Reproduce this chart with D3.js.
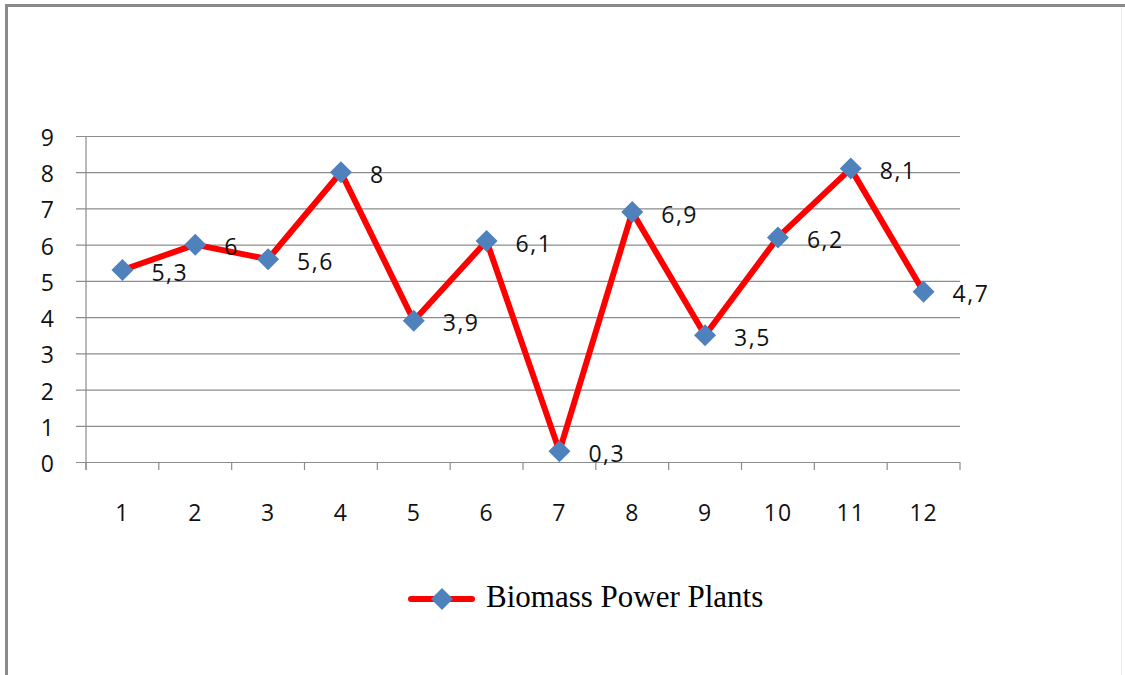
<!DOCTYPE html>
<html>
<head>
<meta charset="utf-8">
<script src="https://cdn.jsdelivr.net/npm/d3@7/dist/d3.min.js"></script>
<style>
  html, body { margin: 0; padding: 0; background: #fff; }
  svg { display: block; }
</style>
</head>
<body>
<svg id="chart" width="1125" height="675"></svg>
<script>
const categories = ["1","2","3","4","5","6","7","8","9","10","11","12"];
const values = [5.3, 6, 5.6, 8, 3.9, 6.1, 0.3, 6.9, 3.5, 6.2, 8.1, 4.7];
const valueLabels = ["5,3","6","5,6","8","3,9","6,1","0,3","6,9","3,5","6,2","8,1","4,7"];
const yTicks = [0,1,2,3,4,5,6,7,8,9];
const seriesName = "Biomass Power Plants";

const svg = d3.select("#chart");
const gridColor = "#8c8c8c";
const lineColor = "#ff0000";
const markerColor = "#4f81bd";
const labelFont = "'Open Sans', 'DejaVu Sans', sans-serif";
const textColor = "#111";

// frame
svg.append("line").attr("x1", 5).attr("x2", 1125).attr("y1", 5.5).attr("y2", 5.5)
  .attr("stroke", "#8a8a8a").attr("stroke-width", 3);
svg.append("line").attr("x1", 6.5).attr("x2", 6.5).attr("y1", 4).attr("y2", 675)
  .attr("stroke", "#8a8a8a").attr("stroke-width", 3);
svg.append("line").attr("x1", 1121.5).attr("x2", 1121.5).attr("y1", 7).attr("y2", 675)
  .attr("stroke", "#ececec").attr("stroke-width", 1);

const plotL = 86, plotR = 960, plotT = 136, plotB = 462;

const x = d3.scaleBand().domain(categories).range([plotL, plotR]).padding(0);
const y = d3.scaleLinear().domain([0, 9]).range([plotB, plotT]);

// gridlines + y ticks
const yAxis = d3.axisLeft(y).tickValues(yTicks).tickSize(-(plotR - plotL)).tickSizeOuter(0).tickPadding(0).tickFormat("");
const gy = svg.append("g").attr("transform", `translate(${plotL},0)`).call(yAxis);
gy.select(".domain").remove();
gy.selectAll(".tick line").attr("stroke", gridColor).attr("stroke-width", 1.2).attr("x1", -10);

// y tick labels
svg.append("g").selectAll("text").data(yTicks).join("text")
  .attr("x", 54).attr("y", d => y(d) + 10)
  .attr("text-anchor", "end")
  .attr("font-family", labelFont).attr("font-size", 23).attr("fill", textColor)
  .text(d => d);

// y axis line
svg.append("line").attr("x1", plotL).attr("x2", plotL).attr("y1", plotT).attr("y2", plotB + 8)
  .attr("stroke", gridColor).attr("stroke-width", 1.2);

// x axis ticks at category boundaries
const boundaries = categories.map(c => x(c)).concat([x(categories[categories.length - 1]) + x.bandwidth()]);
svg.append("g").selectAll("line").data(boundaries).join("line")
  .attr("x1", d => d).attr("x2", d => d).attr("y1", plotB).attr("y2", plotB + 8)
  .attr("stroke", gridColor).attr("stroke-width", 1.2);

// x tick labels
svg.append("g").selectAll("text").data(categories).join("text")
  .attr("x", d => x(d) + x.bandwidth() / 2).attr("y", 521)
  .attr("text-anchor", "middle")
  .attr("font-family", labelFont).attr("font-size", 23).attr("fill", textColor)
  .attr("letter-spacing", 1)
  .text(d => d);

const cx = (d, i) => x(categories[i]) + x.bandwidth() / 2;

// line
const line = d3.line().x((d, i) => cx(d, i)).y(d => y(d));
svg.append("path").datum(values).attr("d", line)
  .attr("fill", "none").attr("stroke", lineColor).attr("stroke-width", 6)
  .attr("stroke-linejoin", "round").attr("stroke-linecap", "round");

// markers
const diamond = d3.symbol().type(d3.symbolSquare).size(242);
svg.append("g").selectAll("path").data(values).join("path")
  .attr("d", diamond)
  .attr("transform", (d, i) => `translate(${cx(d, i)},${y(d)}) rotate(45)`)
  .attr("fill", markerColor);

// data labels
svg.append("g").selectAll("text").data(values).join("text")
  .attr("x", (d, i) => cx(d, i) + 29).attr("y", d => y(d) + 10.5)
  .attr("font-family", labelFont).attr("font-size", 23).attr("fill", textColor)
  .attr("letter-spacing", 1.5)
  .text((d, i) => valueLabels[i]);

// legend
const lg = svg.append("g");
lg.append("line").attr("x1", 411).attr("x2", 472).attr("y1", 599).attr("y2", 599)
  .attr("stroke", lineColor).attr("stroke-width", 6).attr("stroke-linecap", "round");
lg.append("path").attr("d", diamond).attr("transform", "translate(442,599) rotate(45)")
  .attr("fill", markerColor);
lg.append("text").attr("x", 486).attr("y", 607)
  .attr("font-family", "'Liberation Serif', 'Times New Roman', serif").attr("font-size", 31)
  .attr("fill", "#000").text(seriesName);
</script>
</body>
</html>
